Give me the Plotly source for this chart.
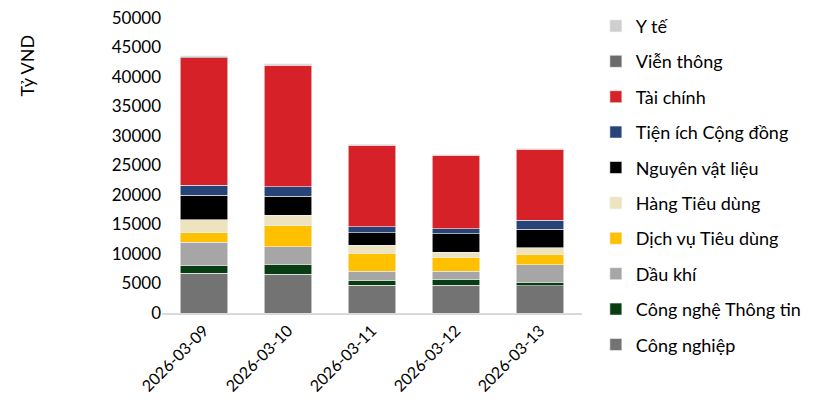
import plotly.graph_objects as go

dates = ["2026-03-09", "2026-03-10", "2026-03-11", "2026-03-12", "2026-03-13"]

cong_nghiep = [6700, 6600, 4720, 4720, 4600]
cong_nghe_tt = [1300, 1700, 850, 1020, 630]
dau_khi = [4000, 2950, 1530, 1360, 2950]
dich_vu_td = [1580, 3520, 3070, 2270, 1820]
hang_td = [2220, 1760, 1310, 910, 1080]
nguyen_vat_lieu = [4140, 3240, 2160, 3190, 3120]
tien_ich = [1700, 1590, 1020, 850, 1480]
tai_chinh = [21600, 20630, 13810, 12380, 12050]
vien_thong = [280, 150, 100, 100, 150]
y_te = [100, 80, 50, 50, 50]

series = [
    ("Công nghiệp", cong_nghiep, "#737373"),
    ("Công nghệ Thông tin", cong_nghe_tt, "#083D14"),
    ("Dầu khí", dau_khi, "#A6A6A6"),
    ("Dịch vụ Tiêu dùng", dich_vu_td, "#FFC000"),
    ("Hàng Tiêu dùng", hang_td, "#EEE3BF"),
    ("Nguyên vật liệu", nguyen_vat_lieu, "#000000"),
    ("Tiện ích Cộng đồng", tien_ich, "#264478"),
    ("Tài chính", tai_chinh, "#D62129"),
    ("Viễn thông", vien_thong, "#6B6B6B"),
    ("Y tế", y_te, "#D0CECE"),
]

FONT = "Lato"

fig = go.Figure()
for i, (name, vals, color) in enumerate(series):
    fig.add_trace(go.Bar(
        x=dates, y=vals, name=name, legendgroup=name,
        legendrank=100 - i,
        marker=dict(color=color, line=dict(color="#F2F2F2", width=0.6)),
    ))

fig.update_layout(
    barmode="stack",
    bargap=0.44,
    width=823, height=411,
    margin=dict(l=154, r=249, t=10, b=106, autoexpand=False),
    paper_bgcolor="white", plot_bgcolor="white",
    font=dict(family=FONT, size=17, color="#000000"),
    showlegend=True,
    legend=dict(
        traceorder="grouped",
        tracegroupgap=9,
        x=1.033, xanchor="left", y=1.035, yanchor="top",
        font=dict(family=FONT, size=18, color="#000000"),
        itemwidth=30,
        maxheight=400,
    ),
    xaxis=dict(
        type="category",
        tickangle=-45,
        showline=True, linecolor="#D9D9D9", linewidth=2,
        showgrid=False, ticks="",
        tickfont=dict(family=FONT, size=16),
    ),
    yaxis=dict(
        range=[0, 50000], dtick=5000,
        showgrid=False, showline=False, zeroline=False,
        ticks="", tickformat="d",
        ticklabeloverflow="allow",
        tickfont=dict(family=FONT, size=17),
    ),
    annotations=[dict(
        text="Tỷ VND", textangle=-90,
        xref="paper", yref="paper",
        x=-0.321, y=0.84, xanchor="center", yanchor="middle",
        showarrow=False, font=dict(family=FONT, size=18),
    )],
)

fig.write_html("out.html")
